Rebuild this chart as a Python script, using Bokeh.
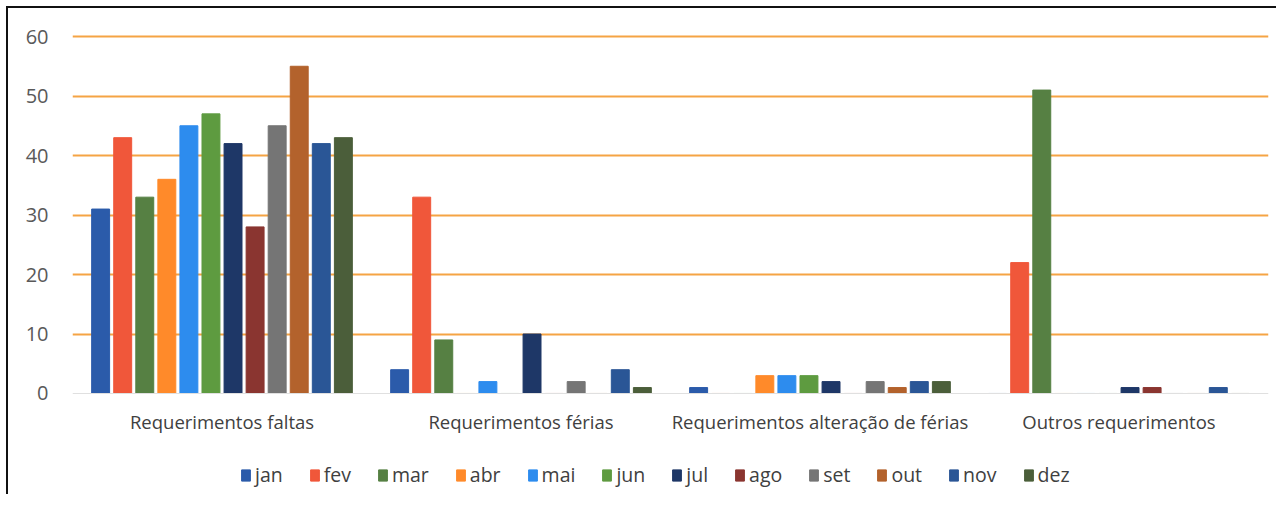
from bokeh.plotting import figure
from bokeh.models import FactorRange, Legend, LegendItem, FixedTicker, ColumnDataSource
from bokeh.transform import dodge
from bokeh.embed import file_html
from bokeh.resources import INLINE

categories = ["Requerimentos faltas", "Requerimentos férias",
              "Requerimentos alteração de férias", "Outros requerimentos"]
months = ["jan", "fev", "mar", "abr", "mai", "jun", "jul", "ago", "set", "out", "nov", "dez"]

jan = [31, 4, 1, 0]
fev = [43, 33, 0, 22]
mar = [33, 9, 0, 51]
abr = [36, 0, 3, 0]
mai = [45, 2, 3, 0]
jun = [47, 0, 3, 0]
jul = [42, 10, 2, 1]
ago = [28, 0, 0, 1]
set_ = [45, 2, 2, 0]
out = [55, 0, 1, 0]
nov = [42, 4, 2, 1]
dez = [43, 1, 2, 0]

series = [jan, fev, mar, abr, mai, jun, jul, ago, set_, out, nov, dez]
colors = ["#2B5BAA", "#F0573A", "#568043", "#FF8A2A", "#2D8CEE", "#5E9B40",
          "#1E3767", "#8A3530", "#757575", "#B3622C", "#2A5696", "#4B5E3A"]

data = {"cat": categories}
for m, vals in zip(months, series):
    data[m] = vals
src = ColumnDataSource(data)

# y range extends below 0 so that category labels and legend sit inside the frame
p = figure(x_range=FactorRange(*categories, range_padding=0), y_range=(-16.64, 60.34),
           width=1270, height=488, output_backend="svg", toolbar_location=None,
           min_border_left=64, min_border_top=26, min_border_right=10, min_border_bottom=4)
p.styles = {"margin-left": "6px", "margin-top": "6px",
            "border-left": "2px solid #111", "border-top": "2px solid #111"}

step = 0.0738
items = []
for i, (m, c) in enumerate(zip(months, colors)):
    r = p.vbar(x=dodge("cat", (i - 5.5) * step, range=p.x_range), top=m, bottom=0,
               width=0.06, source=src, fill_color=c, line_color=c)
    items.append(LegendItem(label=m, renderers=[r]))

p.outline_line_color = None
p.xgrid.grid_line_color = None
p.ygrid.grid_line_color = "#F5A444"
p.ygrid.grid_line_width = 2
p.ygrid.ticker = FixedTicker(ticks=[10, 20, 30, 40, 50, 60])

p.yaxis.ticker = FixedTicker(ticks=[0, 10, 20, 30, 40, 50, 60])
p.yaxis.axis_line_color = None
p.yaxis.major_tick_line_color = None
p.yaxis.major_tick_out = 0
p.yaxis.minor_tick_line_color = None
p.yaxis.major_label_text_font = "Open Sans"
p.yaxis.major_label_text_font_size = "20px"
p.yaxis.major_label_text_color = "#595959"
p.yaxis.major_label_standoff = 24

p.xaxis.fixed_location = 0
p.xaxis.axis_line_color = "#E0E0E0"
p.xaxis.major_tick_line_color = None
p.xaxis.major_tick_out = 0
p.xaxis.major_label_text_font = "Open Sans"
p.xaxis.major_label_text_font_size = "18.5px"
p.xaxis.major_label_text_color = "#404040"
p.xaxis.major_label_standoff = 16

legend = Legend(items=items, orientation="horizontal", location=(168, 4),
                label_text_font="Open Sans", label_text_font_size="19.5px",
                label_text_color="#404040", glyph_width=11, glyph_height=14,
                spacing=26, label_standoff=4, border_line_color=None,
                background_fill_alpha=0, margin=0, padding=4)
p.add_layout(legend)

open("out.html", "w").write(file_html(p, INLINE))
